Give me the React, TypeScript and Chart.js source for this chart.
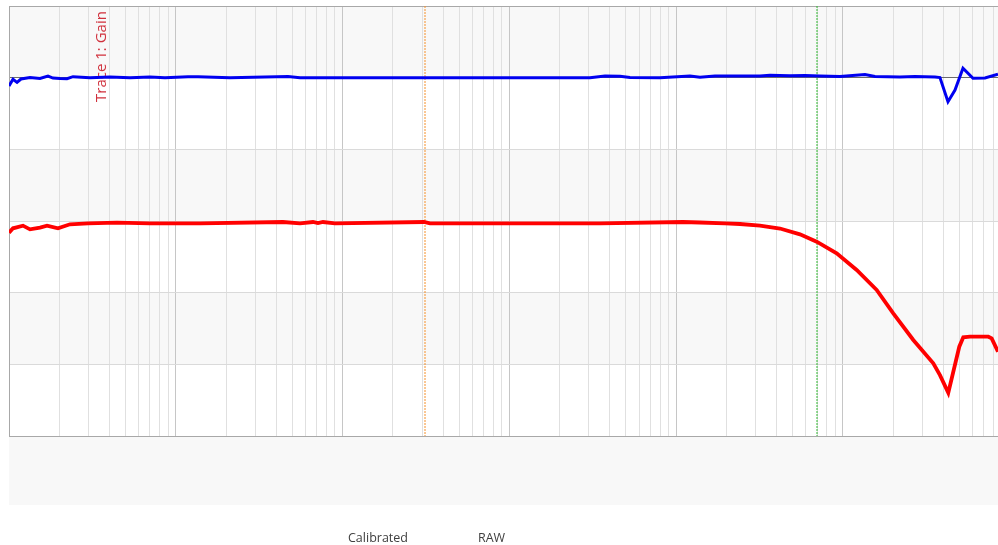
import { useEffect, useRef } from 'react';
import { Chart, registerables } from 'chart.js';

Chart.register(...registerables);

// Calibrated trace (blue)
const calibratedFreqs = [
  10, 10.57, 11.17, 11.8, 13.36, 15.34, 17.13, 18.35, 20.22, 22.27, 24.19, 30.59, 40.32, 53.14, 70.02,
  86.15, 118.4, 135.9, 211.3, 470.7, 555.4, 2209, 8781, 30420, 37420, 46030, 52850, 79980, 120960,
  138880, 170850, 204430, 317960, 365100, 481300, 591800, 727900, 959400, 1354800, 1555600, 2196500,
  2702500, 3561400, 3814600, 4261800, 4694800, 5241800, 6017700, 7100500, 8499500,
];
const calibratedGain = [
  -1.16, -0.23, -0.65, -0.19, 0.02, -0.12, 0.23, -0.05, -0.12, -0.14, 0.14, 0.0, 0.1, 0.0, 0.1,
  0.0, 0.14, 0.14, 0.0, 0.16, 0.0, 0.0, 0.0, 0.0, 0.23, 0.19, 0.02, 0.0, 0.23,
  0.05, 0.23, 0.23, 0.23, 0.33, 0.26, 0.3, 0.23, 0.16, 0.44, 0.16, 0.09,
  0.16, 0.09, 0.02, -3.35, -1.72, 1.31, -0.09, -0.05, 0.47,
];

// RAW trace (red)
const rawFreqs = [
  10, 10.57, 12.13, 13.36, 15.34, 16.9, 19.67, 23.21, 29.76, 44.42, 70.02, 139.7, 439.2, 555.4, 664.5,
  712.0, 762.9, 900.5, 3076, 3342, 34930, 109850, 138880, 196200, 241350, 317960, 419100, 552300,
  695500, 916700, 1208100, 1592200, 2002400, 2639700, 3478700, 3814600, 4279500, 4980900, 5263600,
  5774000, 7432100, 7789700, 8499500,
];
const rawGain = [
  -21.63, -21.02, -20.65, -21.16, -20.91, -20.65, -21.02, -20.46, -20.32, -20.24, -20.32, -20.32, -20.14, -20.32, -20.14,
  -20.3, -20.14, -20.32, -20.14, -20.32, -20.32, -20.14, -20.21, -20.32, -20.42, -20.65, -21.05, -21.86,
  -22.89, -24.51, -26.84, -29.63, -32.88, -36.6, -39.85, -41.5, -43.96, -37.54, -36.23,
  -36.14, -36.14, -36.37, -38.24,
];

const xDecades = [10, 100, 1000, 10000, 100000, 1000000];
const xMultipliers = [1, 2, 3, 4, 5, 6, 7, 8, 9];
const xMin = 10;
const xMax = 8.5e6;
const yMin = -50;
const yMax = 10;
const yStep = 10;

const markerFreqs = [3120, 698000];
const markerColors = ['#f5902a', '#2eb82e'];
const traceLabel = 'Trace 1: Gain';
const legendLabels = ['Calibrated', 'RAW'];

const decoPlugin = {
  id: 'deco',
  beforeDraw(chart: any) {
    const { ctx, chartArea, scales } = chart;
    const y = scales.y;
    ctx.save();
    let idx = 0;
    for (let v = yMax; v > yMin; v -= yStep) {
      if (idx % 2 === 0) {
        const top = y.getPixelForValue(v);
        const bot = y.getPixelForValue(v - yStep);
        ctx.fillStyle = '#f8f8f8';
        ctx.fillRect(chartArea.left, top, chartArea.right - chartArea.left, bot - top);
      }
      idx++;
    }
    ctx.fillStyle = '#f8f8f8';
    ctx.fillRect(chartArea.left, chartArea.bottom + 1, chartArea.right - chartArea.left, 68);
    ctx.restore();
  },
  beforeDatasetsDraw(chart: any) {
    const { ctx, chartArea, scales } = chart;
    ctx.save();
    markerFreqs.forEach((f, i) => {
      const px = Math.round(scales.x.getPixelForValue(f));
      ctx.strokeStyle = markerColors[i];
      ctx.lineWidth = 1;
      ctx.setLineDash([2, 1]);
      ctx.beginPath();
      ctx.moveTo(px, chartArea.top);
      ctx.lineTo(px, chartArea.bottom);
      ctx.stroke();
    });
    ctx.setLineDash([]);
    ctx.translate(chartArea.left + 97, chartArea.top + 96);
    ctx.rotate(-Math.PI / 2);
    ctx.fillStyle = '#d0303c';
    ctx.font = '15px "Open Sans"';
    ctx.textAlign = 'left';
    ctx.textBaseline = 'alphabetic';
    ctx.fillText(traceLabel, 0, 0);
    ctx.restore();
  },
  afterDraw(chart: any) {
    const { ctx } = chart;
    ctx.save();
    ctx.fillStyle = '#404040';
    ctx.font = '12.5px "Open Sans"';
    ctx.textBaseline = 'middle';
    ctx.textAlign = 'left';
    const xs = [348, 478];
    legendLabels.forEach((t, i) => ctx.fillText(t, xs[i], 538));
    ctx.restore();
  },
};

export default function App() {
  const ref = useRef<HTMLCanvasElement>(null);
  useEffect(() => {
    const xTicks: number[] = [];
    xDecades.forEach((d) => xMultipliers.forEach((m) => {
      const v = d * m;
      if (v >= xMin && v <= xMax) xTicks.push(v);
    }));
    const isDecade = (v: number) => Math.abs(Math.log10(v) - Math.round(Math.log10(v))) < 1e-6;
    const chart = new Chart(ref.current!, {
      type: 'line',
      data: {
        datasets: [
          {
            label: legendLabels[0],
            data: calibratedFreqs.map((f, i) => ({ x: f, y: calibratedGain[i] })),
            borderColor: '#0000f0',
            borderWidth: 3,
            pointRadius: 0,
            tension: 0,
            fill: false,
          },
          {
            label: legendLabels[1],
            data: rawFreqs.map((f, i) => ({ x: f, y: rawGain[i] })),
            borderColor: '#ff0000',
            borderWidth: 3.8,
            pointRadius: 0,
            tension: 0,
            fill: false,
          },
        ],
      },
      options: {
        responsive: false,
        animation: false,
        layout: { autoPadding: false, padding: { left: 9, top: 6, right: 0, bottom: 109 } },
        plugins: { legend: { display: false }, tooltip: { enabled: false } },
        scales: {
          x: {
            type: 'logarithmic',
            min: xMin,
            max: xMax,
            ticks: { display: false },
            grid: {
              drawTicks: false,
              color: (c: any) => (c.tick && isDecade(c.tick.value) ? '#c6c6c6' : '#e0e0e0'),
            },
            border: { color: '#a8a8a8' },
            afterBuildTicks: (s: any) => {
              s.ticks = xTicks.map((v) => ({ value: v }));
            },
          },
          y: {
            min: yMin,
            max: yMax,
            ticks: { display: false, stepSize: yStep },
            grid: {
              drawTicks: false,
              color: (c: any) =>
                c.tick && c.tick.value === 0 ? '#6a6a6a' : c.tick && c.tick.value === yMax ? '#a8a8a8' : '#dadada',
            },
            border: { color: '#a8a8a8' },
          },
        },
      } as any,
      plugins: [decoPlugin],
    });
    return () => chart.destroy();
  }, []);
  return (
    <div style={{ position: 'absolute', left: 0, top: 0, width: 998, height: 545 }}>
      <canvas ref={ref} width={998} height={545} style={{ display: 'block' }} />
    </div>
  );
}
